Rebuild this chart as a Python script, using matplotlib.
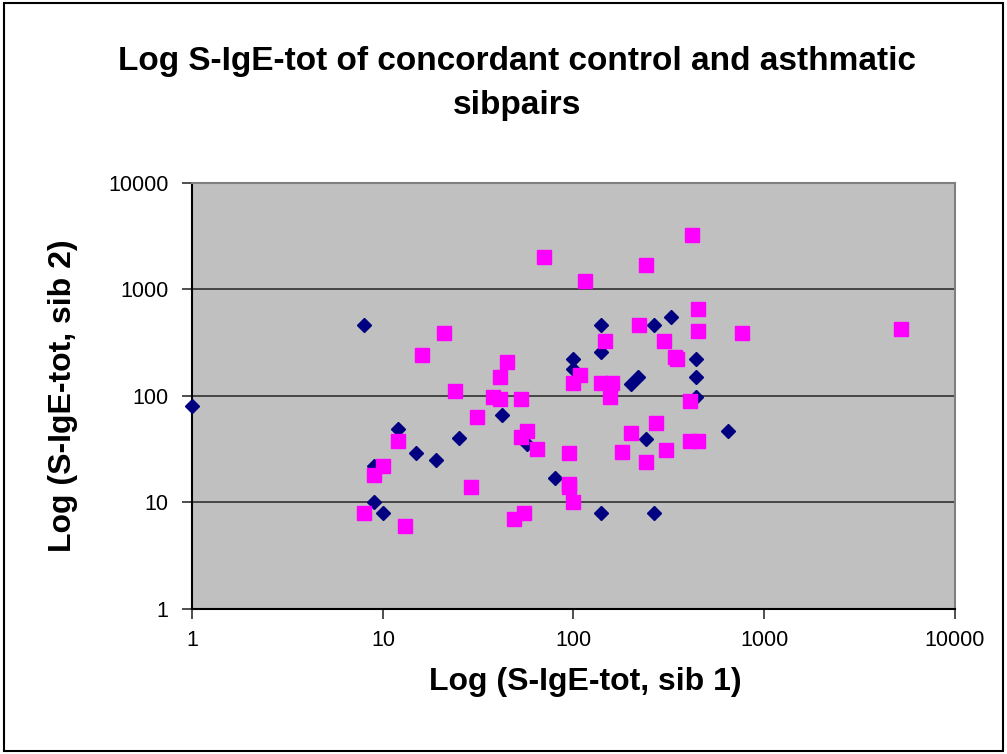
import matplotlib
matplotlib.use("Agg")
import matplotlib.pyplot as plt
from matplotlib.patches import Rectangle

plt.rcParams["font.family"] = ["Liberation Sans", "DejaVu Sans"]

# control sibpairs (navy diamonds)
control_sib1 = [1, 8, 9, 9, 10, 12, 15, 19, 25, 42, 57, 80, 100, 100, 140, 140, 140,
                200, 218, 240, 265, 265, 325, 440, 440, 440, 650]
control_sib2 = [80, 460, 22, 10, 8, 49, 29, 25, 40, 66, 35, 17, 220, 178, 460, 260, 8,
                130, 150, 39, 460, 8, 550, 220, 150, 98, 47]

# asthmatic sibpairs (magenta squares)
asthma_sib1 = [70, 115, 21, 16, 45, 41, 24, 38, 41, 53, 31, 57, 53, 64, 95, 99, 108,
               420, 240, 450, 450, 770, 5200, 220, 146, 300, 340, 350, 140, 160, 156,
               410, 272, 200, 180, 307, 240, 410, 450, 29, 95, 95, 100, 55, 49, 10, 9,
               8, 13, 12]
asthma_sib2 = [2000, 1200, 390, 240, 210, 150, 112, 98, 93, 94, 64, 47, 41, 32, 29, 131, 157,
               3200, 1700, 650, 405, 390, 425, 460, 325, 325, 233, 222, 133, 133, 98,
               90, 56, 45, 30, 31, 24, 38, 38, 14, 15, 14, 10, 8, 7, 22, 18,
               8, 6, 38]

ticks = [1, 10, 100, 1000, 10000]
tick_labels = ["1", "10", "100", "1000", "10000"]

fig = plt.figure(figsize=(10.07, 7.54), dpi=100)
ax = fig.add_axes([0.191, 0.1923, 0.757, 0.5654])

ax.set_facecolor("#C0C0C0")
ax.set_xscale("log")
ax.set_yscale("log")
ax.set_xlim(1, 10000)
ax.set_ylim(1, 10000)

for y in [10, 100, 1000]:
    ax.axhline(y, color="#303030", lw=1.2, zorder=1)

ax.plot(control_sib1, control_sib2, linestyle="none", marker="D", markersize=6.8,
        color="#000080", zorder=3, clip_on=False)
ax.plot(asthma_sib1, asthma_sib2, linestyle="none", marker="s", markersize=10,
        color="#FF00FF", zorder=4, clip_on=False)

ax.set_xticks(ticks)
ax.set_xticklabels(tick_labels)
ax.set_yticks(ticks)
ax.set_yticklabels(tick_labels)
ax.minorticks_off()
ax.tick_params(direction="out", length=7, width=1.2, labelsize=15.5, pad=8, color="#303030")
ax.tick_params(axis="y", pad=10)

ax.spines["left"].set_color("#000000")
ax.spines["bottom"].set_color("#000000")
ax.spines["top"].set_color("#808080")
ax.spines["right"].set_color("#808080")
for s in ax.spines.values():
    s.set_linewidth(1.5)

ax.set_xlabel("Log (S-IgE-tot, sib 1)", fontsize=23, fontweight="bold")
ax.xaxis.set_label_coords(0.515, -0.137)
ax.set_ylabel("Log (S-IgE-tot, sib 2)", fontsize=23, fontweight="bold", labelpad=22)

fig.text(0.513, 0.889, "Log S-IgE-tot of concordant control and asthmatic\nsibpairs",
         ha="center", va="center", fontsize=24, fontweight="bold", linespacing=1.55)

fig.patches.append(Rectangle((0.004, 0.004), 0.992, 0.992, transform=fig.transFigure,
                             fill=False, edgecolor="black", lw=1.5))

fig.savefig("out.png", dpi=100)
